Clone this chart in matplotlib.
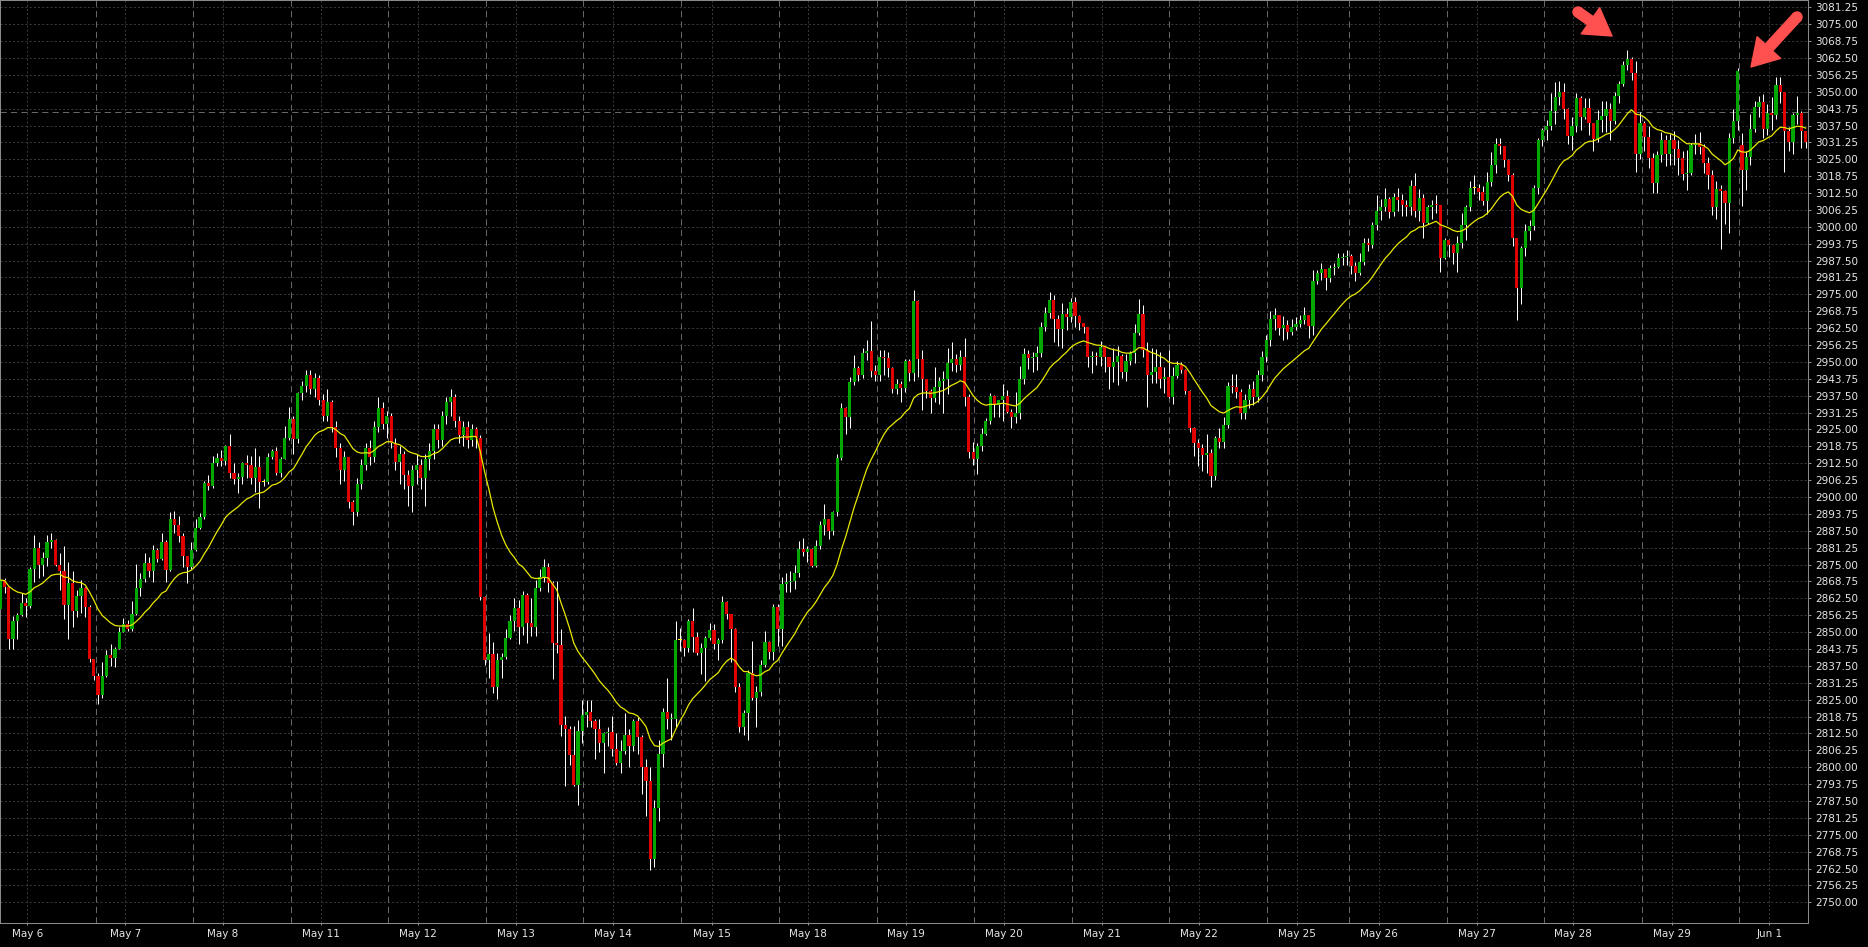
import matplotlib
matplotlib.use("Agg")
import matplotlib.pyplot as plt
from matplotlib.patches import Circle
from matplotlib.transforms import IdentityTransform
import numpy as np
import pandas as pd

# hourly candles, May 6 - Jun 1
opens = [
    2858.4, 2869.3, 2866.8, 2847.3, 2854.1, 2856.3, 2860.6, 2859.7, 2873.4, 2881,
    2874.8, 2877.3, 2883.5, 2884, 2874.8, 2872.6, 2860, 2868.3, 2858, 2863.4,
    2866.5, 2859.4, 2839.9, 2833.7, 2826.7, 2833.8, 2841.5, 2840.3, 2843.6, 2850.2,
    2853, 2851.3, 2856.7, 2866.2, 2869.6, 2875.5, 2872.7, 2880.4, 2877, 2883.5,
    2873, 2891.9, 2889.6, 2885.6, 2878, 2874.2, 2880.4, 2888.4, 2892.7, 2905.1,
    2904.1, 2912.5, 2914.3, 2913.4, 2918.9, 2908.8, 2906.8, 2907.5, 2912.5, 2911.9,
    2906.9, 2911, 2905.5, 2905.5, 2914.7, 2917.2, 2908.8, 2914, 2921.7, 2929,
    2921.5, 2938.4, 2941.1, 2945.2, 2940, 2944, 2936, 2930, 2935, 2926,
    2918, 2910, 2915, 2898, 2894.6, 2905, 2912, 2918, 2915, 2926,
    2933, 2927, 2930, 2920, 2913, 2916, 2908, 2904, 2910, 2912,
    2907, 2914, 2917, 2925, 2921, 2930, 2935, 2937, 2928, 2923,
    2926, 2921, 2925, 2922, 2863.1, 2839.7, 2842, 2829.8, 2839.7, 2840.9,
    2847.9, 2854.1, 2859.1, 2852, 2863.7, 2853.5, 2852, 2866.2, 2870.3, 2874,
    2868.1, 2845.8, 2845.1, 2815.6, 2814.1, 2804.5, 2793.4, 2813.5, 2819.3, 2820.5,
    2817.2, 2814, 2808.8, 2812.5, 2813.1, 2806.6, 2801.4, 2806, 2812, 2808,
    2817, 2811.3, 2800, 2795, 2766, 2785, 2805, 2820.6, 2817.7, 2818,
    2847.1, 2847.1, 2844, 2854.2, 2848.3, 2842.1, 2844.2, 2847.9, 2850.8, 2845.6,
    2847.1, 2861.3, 2856.6, 2851, 2829.8, 2815, 2819.9, 2834.7, 2825.5, 2828,
    2837.8, 2846.5, 2842.8, 2859.4, 2851, 2867.8, 2868.5, 2868.9, 2871.7, 2880.6,
    2879.8, 2880.6, 2874.5, 2881.8, 2889.6, 2891.7, 2887.5, 2894.6, 2914.3, 2932.8,
    2929.7, 2942.7, 2947.6, 2945.2, 2953.2, 2954, 2946.8, 2945.1, 2951.7, 2951.3,
    2947.6, 2939.8, 2941.8, 2940.2, 2950.3, 2945.8, 2972.7, 2950.9, 2943.6, 2939.4,
    2936.5, 2940.9, 2942.9, 2943.6, 2949.5, 2951, 2948.9, 2951.7, 2936.9, 2916.8,
    2914, 2918.9, 2923.3, 2928.3, 2937.4, 2934.1, 2935.9, 2937.4, 2931.6, 2929.8,
    2931.2, 2943.6, 2952.9, 2951.3, 2951.7, 2953.2, 2962.8, 2968, 2972.9, 2965.9,
    2962.2, 2967.7, 2966.8, 2972, 2967.1, 2964.3, 2962.8, 2951.7, 2952, 2951.7,
    2955.4, 2951.7, 2948.2, 2950.1, 2952.1, 2946.4, 2950.5, 2953.2, 2960.8, 2967.7,
    2954.4, 2945.2, 2946.1, 2948.3, 2943.6, 2944.3, 2937.1, 2944.8, 2948.9, 2947,
    2939.4, 2925.4, 2919.9, 2918.3, 2915.6, 2916.2, 2907.7, 2921.9, 2920.3, 2926.7,
    2941.1, 2940.6, 2939, 2931, 2936, 2940, 2937, 2945, 2952, 2958,
    2965.9, 2967.4, 2962.4, 2963.7, 2961, 2962.8, 2964, 2965.5, 2967.4, 2963.4,
    2979.9, 2982.8, 2984.3, 2981.2, 2984.6, 2985.2, 2988.3, 2988.7, 2989.2, 2985.5,
    2982.8, 2987.1, 2993.9, 2993.3, 3000.7, 3006, 3007.5, 3010.2, 3005.6, 3010.9,
    3009.9, 3008.1, 3007.2, 3015.1, 3006, 3010.6, 3001.5, 3007.2, 3008.1, 3007.9,
    2988.3, 2995.1, 2993.3, 2990.4, 2993.9, 3000.7, 3007.5, 3014.3, 3014.3, 3013,
    3009.7, 3016.7, 3022.9, 3030.5, 3030, 3024.7, 3019.2, 2995.7, 2977.2, 2992,
    2998.5, 3000.3, 3014.3, 3032, 3035.8, 3037.3, 3042.9, 3047.9, 3050, 3043.6,
    3033.6, 3037.3, 3047.6, 3040.5, 3044.1, 3038.3, 3032.4, 3039.5, 3041, 3043.5,
    3039, 3048.4, 3052.9, 3059.9, 3062, 3057.1, 3026.8, 3038.3, 3033.4, 3025.6,
    3016.1, 3026.6, 3032.1, 3027, 3032.1, 3028.7, 3025.6, 3019.6, 3020, 3030.3,
    3030.9, 3029.5, 3023.8, 3019.2, 3007.5, 3013.9, 3013.4, 3008.7, 3032.7, 3039,
    3030.3, 3021.1, 3026, 3036.1, 3044.5, 3046.3, 3036.1, 3042, 3041.4, 3052.5,
    3050, 3035.6, 3031.5, 3041.4, 3042, 3035.6,
]
highs = [
    2870, 2869.9, 2867, 2856, 2857, 2864.4, 2862.5, 2874, 2885.9, 2883.5,
    2879.8, 2886, 2886.6, 2884.5, 2879.2, 2881.9, 2876, 2872.7, 2865.6, 2869.3,
    2866.6, 2860, 2840, 2835, 2839, 2843.3, 2845.6, 2844.6, 2852, 2855.1,
    2854.5, 2861.6, 2875.4, 2871.8, 2879.2, 2877.9, 2882.2, 2881, 2886.8, 2884,
    2894.6, 2895, 2893, 2886.6, 2878, 2883.2, 2891.9, 2894, 2906, 2908.3,
    2915.3, 2916.2, 2917.5, 2919.3, 2923.3, 2912.7, 2908.8, 2913, 2915.6, 2915.2,
    2918, 2915.2, 2906.8, 2916.2, 2917.7, 2918.5, 2915, 2926.3, 2933.4, 2930,
    2939, 2943, 2947, 2947, 2946, 2945, 2938, 2940, 2936, 2928,
    2920, 2917, 2915, 2899, 2907, 2914, 2920, 2921, 2928, 2937,
    2935, 2932, 2931, 2922, 2919, 2917, 2910, 2912, 2916, 2914,
    2916, 2920, 2927, 2927, 2932, 2937, 2940, 2938, 2930, 2928,
    2928, 2927, 2926, 2923, 2863.5, 2849.5, 2846.5, 2842.1, 2842.1, 2851,
    2856.5, 2862.5, 2862, 2865.3, 2864.3, 2862.6, 2869.2, 2873.3, 2877, 2875.6,
    2869, 2869, 2851, 2819, 2815.3, 2815.3, 2817.6, 2824.9, 2825, 2824.9,
    2818, 2817.7, 2813, 2815, 2819, 2812.5, 2810, 2820, 2814, 2818,
    2818.5, 2812, 2803, 2800, 2788, 2810, 2822, 2833, 2820, 2854,
    2851.5, 2847.5, 2855, 2858.8, 2850, 2846.1, 2848.5, 2853.5, 2853, 2848,
    2863.3, 2861.5, 2856.8, 2851.5, 2831, 2821, 2836, 2846.8, 2830, 2839.7,
    2850.3, 2846.8, 2860.5, 2860.5, 2870.5, 2872, 2872.8, 2874.8, 2883.8, 2885,
    2882, 2881, 2884, 2891, 2897.4, 2892, 2895, 2915.8, 2934.8, 2933.5,
    2944.3, 2952.7, 2948.5, 2955, 2958.2, 2965, 2949, 2954.4, 2954.4, 2953.5,
    2948, 2943.5, 2943, 2951, 2951, 2976.6, 2973, 2954.4, 2943.8, 2940,
    2948, 2944.6, 2946.5, 2955.1, 2957.2, 2953, 2954.5, 2958.8, 2938, 2920.5,
    2920, 2925.5, 2929.4, 2938.5, 2937.6, 2936, 2941.8, 2939.6, 2932.5, 2939,
    2948.4, 2955, 2954.3, 2953.5, 2956, 2964.6, 2970.5, 2975.8, 2974.6, 2967.5,
    2971.7, 2970, 2973.5, 2974.2, 2967.5, 2964.5, 2963, 2954, 2953.5, 2957.8,
    2955.6, 2952, 2955, 2955.8, 2953, 2953, 2954, 2964.2, 2973.2, 2971,
    2957.5, 2955, 2954.8, 2953.8, 2948.2, 2954.4, 2948.2, 2950.5, 2950, 2947.5,
    2939.5, 2926, 2921.5, 2919.5, 2923.3, 2917.7, 2922.5, 2925.5, 2929.5, 2942.4,
    2945.6, 2945.4, 2940, 2938, 2942, 2943, 2947, 2954, 2960, 2969,
    2970, 2967.5, 2967, 2965.5, 2965.8, 2966.5, 2967.5, 2970.3, 2967.5, 2983.9,
    2984, 2986.6, 2984.4, 2985.9, 2986.6, 2990.5, 2990.5, 2991.3, 2990, 2987,
    2990.3, 2995.8, 2995.8, 3001.9, 3011.7, 3010.2, 3014.3, 3010.9, 3012.4, 3014.5,
    3012, 3009.8, 3017.3, 3019.9, 3013.9, 3012, 3008, 3010, 3011.8, 3008,
    2996, 2995.5, 2993.8, 2996.6, 3005, 3008, 3016.8, 3019.2, 3016, 3015,
    3020.2, 3027.6, 3033, 3033, 3030, 3025, 3020, 2996, 2993, 3001,
    3002.4, 3015.5, 3033, 3036.5, 3039.4, 3049.7, 3053.5, 3053.9, 3053.4, 3044,
    3040.5, 3049.4, 3048.6, 3047.5, 3047.5, 3038.5, 3043.2, 3046.4, 3046.5, 3046,
    3049.8, 3054, 3061.2, 3065.6, 3062.9, 3061.5, 3042.5, 3039, 3037.5, 3027.5,
    3028, 3035, 3034, 3034.5, 3035.5, 3032, 3028, 3028.5, 3031, 3034.3,
    3035, 3030.5, 3026, 3021, 3017, 3015.5, 3013.5, 3034.8, 3043.5, 3058.7,
    3034.6, 3028, 3041.7, 3046.6, 3048.4, 3049, 3045.6, 3048.2, 3055.5, 3055.5,
    3050, 3037, 3042, 3048.4, 3043, 3035.6,
]
lows = [
    2854, 2864.3, 2843.6, 2843.6, 2847.3, 2856, 2855.7, 2859, 2868.6, 2869.9,
    2870.8, 2874.5, 2881, 2874.5, 2865.6, 2854.7, 2847.3, 2852, 2855.7, 2856.9,
    2855.7, 2839, 2832.2, 2823.3, 2825.5, 2833.5, 2837.3, 2837.1, 2843.6, 2850,
    2850.6, 2850.6, 2856.4, 2863.2, 2868.6, 2870.5, 2868.6, 2876, 2876.8, 2868.6,
    2872.8, 2886.6, 2883.5, 2874.2, 2868, 2873.2, 2879.9, 2888, 2892, 2902.6,
    2903.5, 2911.5, 2911.5, 2912, 2906.9, 2905, 2901.4, 2905, 2906.9, 2905,
    2902, 2895.8, 2904, 2905, 2914, 2908.1, 2907.5, 2913.9, 2921, 2916,
    2920, 2936, 2939, 2938, 2937, 2934, 2928, 2928, 2924, 2915,
    2905, 2906, 2896, 2889.6, 2893, 2903, 2910, 2912, 2913, 2924,
    2925, 2922, 2918, 2910, 2905, 2903, 2896.7, 2894.6, 2905, 2903,
    2896.7, 2910, 2914, 2918, 2919, 2927, 2930, 2926, 2920, 2919,
    2918, 2919, 2918, 2862, 2837.8, 2833, 2827.4, 2825.3, 2833, 2840,
    2847.3, 2850.5, 2845.5, 2848.8, 2846.1, 2848.5, 2848.5, 2865.3, 2868.5, 2865,
    2832.8, 2842.3, 2811.6, 2793, 2800.8, 2793, 2786, 2809, 2815, 2815,
    2803, 2805.5, 2798, 2808, 2804, 2801, 2798, 2805, 2800, 2806,
    2805, 2790, 2782, 2762, 2763, 2780, 2800, 2814, 2810, 2815,
    2843, 2841, 2842.5, 2842.5, 2841.5, 2834.4, 2832, 2847, 2843.6, 2839.7,
    2846.1, 2855, 2839.1, 2828, 2813, 2812, 2810, 2825, 2815, 2826.3,
    2837, 2840, 2839.7, 2845, 2845, 2865, 2865, 2866, 2870.3, 2878,
    2876, 2874, 2874, 2880.7, 2886, 2884.4, 2886, 2893, 2913.7, 2923.3,
    2925.5, 2941.5, 2943, 2944, 2950.6, 2944.6, 2943, 2943, 2945, 2944.6,
    2938.6, 2938, 2935, 2939, 2943, 2943, 2944.6, 2932.2, 2936.7, 2931,
    2935, 2934.4, 2931, 2938, 2946.5, 2946.2, 2947, 2933.6, 2914.3, 2912,
    2908.5, 2917, 2923, 2927, 2929.6, 2929.6, 2928, 2931, 2925.5, 2927.4,
    2929, 2942, 2947.3, 2946.2, 2947, 2952, 2961.5, 2966.3, 2957.5, 2956,
    2955, 2962, 2964.8, 2962.9, 2962, 2960.8, 2948, 2946, 2949, 2948.4,
    2946.3, 2940, 2942.5, 2941.6, 2944.2, 2943, 2949, 2949.5, 2960, 2952,
    2933.2, 2942.1, 2942.1, 2940.2, 2938.4, 2936.5, 2934.4, 2944, 2946, 2938,
    2924, 2915.2, 2911.5, 2909.6, 2909, 2903.8, 2906.2, 2918, 2918, 2925.5,
    2938.6, 2936.8, 2929, 2929, 2933, 2934, 2935, 2943, 2950, 2956,
    2962, 2960, 2958, 2958.6, 2960, 2962, 2963, 2964, 2959, 2960,
    2979, 2980.4, 2976.7, 2979.7, 2982, 2984.7, 2986, 2986, 2982.5, 2980,
    2982, 2986, 2991, 2992, 2999, 3002.6, 3006, 3003.2, 3004, 3006,
    3004, 3004, 3004.5, 3003.7, 3002, 2996, 3001, 3003, 3005, 2983.2,
    2988, 2988.8, 2986.2, 2983.4, 2992, 2995.3, 3006, 3012, 3010, 3008,
    3004.6, 3015, 3020, 3027, 3022, 3017, 2993, 2965.5, 2971.4, 2989.3,
    2995, 2999, 3012, 3030, 3032, 3036, 3038, 3045, 3040, 3030.5,
    3028.5, 3035, 3036, 3040, 3034, 3028.2, 3031.5, 3035, 3035, 3032,
    3038, 3046, 3052, 3058, 3054.5, 3020.3, 3025, 3028, 3021.6, 3012.5,
    3012.5, 3024, 3022.4, 3023, 3023, 3019.1, 3017.5, 3013.6, 3019, 3027,
    3027, 3020, 3014, 3004.4, 3003, 2991.9, 3001, 2997.6, 3031, 3036,
    3007.7, 3013.5, 3023, 3035, 3040.5, 3033, 3034, 3036, 3040, 3046,
    3020.4, 3028, 3027, 3038, 3029, 3029,
]
closes = [
    2869.3, 2866.8, 2847.3, 2854.1, 2856.3, 2860.6, 2859.7, 2873.4, 2881, 2874.8,
    2877.3, 2883.5, 2884, 2874.8, 2872.6, 2860, 2868.3, 2858, 2863.4, 2866.5,
    2859.4, 2839.9, 2833.7, 2826.7, 2833.8, 2841.5, 2840.3, 2843.6, 2850.2, 2853,
    2851.3, 2856.7, 2866.2, 2869.6, 2875.5, 2872.7, 2880.4, 2877, 2883.5, 2873,
    2891.9, 2889.6, 2885.6, 2878, 2874.2, 2880.4, 2888.4, 2892.7, 2905.1, 2904.1,
    2912.5, 2914.3, 2913.4, 2918.9, 2908.8, 2906.8, 2907.5, 2912.5, 2911.9, 2906.9,
    2911, 2905.5, 2905.5, 2914.7, 2917.2, 2908.8, 2914, 2921.7, 2929, 2921.5,
    2938.4, 2941.1, 2945.2, 2940, 2944, 2936, 2930, 2935, 2926, 2918,
    2910, 2915, 2898, 2894.6, 2905, 2912, 2918, 2915, 2926, 2933,
    2927, 2930, 2920, 2913, 2916, 2908, 2904, 2910, 2912, 2907,
    2914, 2917, 2925, 2921, 2930, 2935, 2937, 2928, 2923, 2926,
    2921, 2925, 2922, 2863.1, 2839.7, 2842, 2829.8, 2839.7, 2840.9, 2847.9,
    2854.1, 2859.1, 2852, 2863.7, 2853.5, 2852, 2866.2, 2870.3, 2874, 2868.1,
    2845.8, 2845.1, 2815.6, 2814.1, 2804.5, 2793.4, 2813.5, 2819.3, 2820.5, 2817.2,
    2814, 2808.8, 2812.5, 2813.1, 2806.6, 2801.4, 2806, 2812, 2808, 2817,
    2811.3, 2800, 2795, 2766, 2785, 2805, 2820.6, 2817.7, 2818, 2847.1,
    2847.1, 2844, 2854.2, 2848.3, 2842.1, 2844.2, 2847.9, 2850.8, 2845.6, 2847.1,
    2861.3, 2856.6, 2851, 2829.8, 2815, 2819.9, 2834.7, 2825.5, 2828, 2837.8,
    2846.5, 2842.8, 2859.4, 2851, 2867.8, 2868.5, 2868.9, 2871.7, 2880.6, 2879.8,
    2880.6, 2874.5, 2881.8, 2889.6, 2891.7, 2887.5, 2894.6, 2914.3, 2932.8, 2929.7,
    2942.7, 2947.6, 2945.2, 2953.2, 2954, 2946.8, 2945.1, 2951.7, 2951.3, 2947.6,
    2939.8, 2941.8, 2940.2, 2950.3, 2945.8, 2972.7, 2950.9, 2943.6, 2939.4, 2936.5,
    2940.9, 2942.9, 2943.6, 2949.5, 2951, 2948.9, 2951.7, 2936.9, 2916.8, 2914,
    2918.9, 2923.3, 2928.3, 2937.4, 2934.1, 2935.9, 2937.4, 2931.6, 2929.8, 2931.2,
    2943.6, 2952.9, 2951.3, 2951.7, 2953.2, 2962.8, 2968, 2972.9, 2965.9, 2962.2,
    2967.7, 2966.8, 2972, 2967.1, 2964.3, 2962.8, 2951.7, 2952, 2951.7, 2955.4,
    2951.7, 2948.2, 2950.1, 2952.1, 2946.4, 2950.5, 2953.2, 2960.8, 2967.7, 2954.4,
    2945.2, 2946.1, 2948.3, 2943.6, 2944.3, 2937.1, 2944.8, 2948.9, 2947, 2939.4,
    2925.4, 2919.9, 2918.3, 2915.6, 2916.2, 2907.7, 2921.9, 2920.3, 2926.7, 2941.1,
    2940.6, 2939, 2931, 2936, 2940, 2937, 2945, 2952, 2958, 2965.9,
    2967.4, 2962.4, 2963.7, 2961, 2962.8, 2964, 2965.5, 2967.4, 2963.4, 2979.9,
    2982.8, 2984.3, 2981.2, 2984.6, 2985.2, 2988.3, 2988.7, 2989.2, 2985.5, 2982.8,
    2987.1, 2993.9, 2993.3, 3000.7, 3006, 3007.5, 3010.2, 3005.6, 3010.9, 3009.9,
    3008.1, 3007.2, 3015.1, 3006, 3010.6, 3001.5, 3007.2, 3008.1, 3007.9, 2988.3,
    2995.1, 2993.3, 2990.4, 2993.9, 3000.7, 3007.5, 3014.3, 3014.3, 3013, 3009.7,
    3016.7, 3022.9, 3030.5, 3030, 3024.7, 3019.2, 2995.7, 2977.2, 2992, 2998.5,
    3000.3, 3014.3, 3032, 3035.8, 3037.3, 3042.9, 3047.9, 3050, 3043.6, 3033.6,
    3037.3, 3047.6, 3040.5, 3044.1, 3038.3, 3032.4, 3039.5, 3041, 3043.5, 3039,
    3048.4, 3052.9, 3059.9, 3062, 3057.1, 3026.8, 3038.3, 3033.4, 3025.6, 3016.1,
    3026.6, 3032.1, 3027, 3032.1, 3028.7, 3025.6, 3019.6, 3020, 3030.3, 3030.9,
    3029.5, 3023.8, 3019.2, 3007.5, 3013.9, 3013.4, 3008.7, 3032.7, 3039, 3057.8,
    3021.1, 3026, 3036.1, 3044.5, 3046.3, 3036.1, 3042, 3041.4, 3052.5, 3050,
    3035.6, 3031.5, 3041.4, 3042, 3035.6, 3031.5,
]

day_labels = ['May 6', 'May 7', 'May 8', 'May 11', 'May 12', 'May 13', 'May 14',
              'May 15', 'May 18', 'May 19', 'May 20', 'May 21', 'May 22', 'May 25',
              'May 26', 'May 27', 'May 28', 'May 29', 'Jun 1']
day_pos = [6.36, 29.43, 52.35, 75.42, 98.4, 121.33, 144.3, 167.47, 190.21, 213.21,
           236.35, 259.27, 282.25, 305.32, 324.44, 347.55, 370.29, 393.46, 416.43]
session_breaks = [22.46, 45.43, 68.36, 91.34, 114.4, 137.2, 160.2, 183.4, 206.3,
                  229.3, 252.4, 275.2, 298.3, 317.5, 340.5, 363.4, 386.4, 409.4]
marked_level = 3042.5

plt.rcParams['lines.scale_dashes'] = False
plt.rcParams['font.family'] = 'DejaVu Sans'

o = np.array(opens)
h = np.array(highs)
l = np.array(lows)
c = np.array(closes)
x = np.arange(len(c))

fig = plt.figure(figsize=(18.68, 9.47), dpi=100, facecolor='black')
ax = fig.add_axes([0.0, 24 / 947, 1808 / 1868, 923 / 947])
ax.set_facecolor('black')
ax.set_xlim(-0.07, 425.54)
ax.set_ylim(2742.35, 3083.95)

# grid + separators
yt = np.arange(2750, 3081.3, 6.25)
ax.set_yticks(yt)
ax.set_yticklabels(['%.2f' % v for v in yt])
ax.set_xticks(day_pos)
ax.set_xticklabels(day_labels)
ax.grid(True, color='#383838', linestyle=(0, (1.5, 1.5)), linewidth=0.72)
ax.set_axisbelow(True)
for b in session_breaks:
    ax.axvline(b, color='#666666', linestyle=(0, (4.5, 3)), linewidth=0.72, zorder=1)
ax.axhline(marked_level, color='#666666', linestyle=(0, (4.5, 3)), linewidth=0.72, zorder=1)

# candles: white wicks, coloured bodies on top
top = np.maximum(h, np.maximum(o, c))
bot = np.minimum(l, np.minimum(o, c))
ax.vlines(x, bot, top, color='white', linewidth=0.72, zorder=2)
cols = np.where(c > o, '#00a800', np.where(c < o, '#e00000', '#ffff00'))
body = np.maximum(np.abs(c - o), 0.37)
ax.bar(x, body, bottom=np.minimum(o, c), width=0.74, color=cols, linewidth=0,
       zorder=3)

ma = pd.Series(c).ewm(span=20, adjust=False).mean()
ax.plot(x, ma, color='#e8e800', linewidth=0.9, zorder=4)

# axes look
ax.yaxis.tick_right()
ax.tick_params(axis='both', color='#8a8a8a', labelcolor='#e6e6e6', labelsize=7.5, width=0.75)
ax.tick_params(axis='y', length=2.5, pad=3)
ax.tick_params(axis='x', length=1.5, pad=3)
for s in ax.spines.values():
    s.set_color('#8a8a8a')
    s.set_linewidth(0.75)

# red arrows (figure pixels)
arrow_col = '#ff5050'
for tail, tip in [((1578, 935), (1612, 911)), ((1797, 930), (1751, 880))]:
    ax.annotate('', xy=tip, xytext=tail, xycoords='figure pixels', textcoords='figure pixels',
                arrowprops=dict(arrowstyle='simple,head_length=1.9,head_width=2.3,tail_width=0.72',
                                mutation_scale=10, color=arrow_col, shrinkA=0, shrinkB=0))
    fig.add_artist(Circle(tail, 5, transform=IdentityTransform(), color=arrow_col))

fig.savefig('out.png', dpi=100, facecolor='black')
